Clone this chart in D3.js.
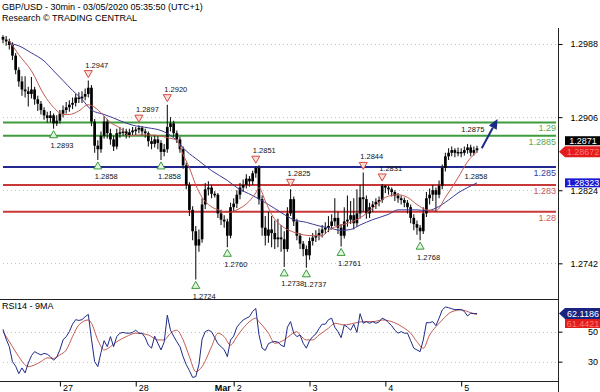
<!DOCTYPE html>
<html>
<head>
<meta charset="utf-8">
<script src="https://cdn.jsdelivr.net/npm/d3@7"></script>
<style>
  body { margin: 0; background: #fff; }
  svg { display: block; font-family: "Liberation Sans", Arial, sans-serif; }
</style>
</head>
<body>
<svg id="chart" width="600" height="392"></svg>
<script>
// GBP/USD, one candle per hour, index 0 = first bar on the left
const firstOpen = 1.2996;
const closes = [
  1.2993, 1.2991, 1.2987, 1.2975, 1.2959, 1.2946, 1.2937, 1.2935, 1.2932, 1.2937,
  1.2926, 1.2921, 1.2914, 1.2908, 1.2905, 1.2908, 1.2899, 1.2902, 1.2910, 1.2914,
  1.2917, 1.2920, 1.2922, 1.2928, 1.2927, 1.2929, 1.2932, 1.2939, 1.2901, 1.2874,
  1.2870, 1.2885, 1.2901, 1.2888, 1.2881, 1.2873, 1.2888, 1.2889, 1.2890, 1.2886,
  1.2889, 1.2891, 1.2892, 1.2894, 1.2890, 1.2888, 1.2879, 1.2876, 1.2881, 1.2877,
  1.2867, 1.2870, 1.2895, 1.2899, 1.2888, 1.2881, 1.2870, 1.2852, 1.2830, 1.2802,
  1.2778, 1.2762, 1.2769, 1.2808, 1.2825, 1.2827, 1.2820, 1.2819, 1.2798, 1.2791,
  1.2789, 1.2773, 1.2805, 1.2809, 1.2819, 1.2827, 1.2830, 1.2837, 1.2834, 1.2843,
  1.2849, 1.2814, 1.2782, 1.2773, 1.2780, 1.2776, 1.2769, 1.2771, 1.2769, 1.2758,
  1.2798, 1.2814, 1.2789, 1.2773, 1.2764, 1.2758, 1.2751, 1.2767, 1.2771, 1.2773,
  1.2776, 1.2780, 1.2782, 1.2784, 1.2789, 1.2793, 1.2782, 1.2773, 1.2789, 1.2791,
  1.2796, 1.2787, 1.2798, 1.2816, 1.2814, 1.2798, 1.2805, 1.2808, 1.2811, 1.2813,
  1.2829, 1.2827, 1.2825, 1.2822, 1.2818, 1.2815, 1.2813, 1.2810, 1.2805, 1.2793,
  1.2786, 1.2782, 1.2778, 1.2798, 1.2815, 1.2819, 1.2824, 1.2819, 1.2829, 1.2849,
  1.2862, 1.2866, 1.2869, 1.2866, 1.2867, 1.2866, 1.2869, 1.2872, 1.2866, 1.2869,
  1.2871
];
const highs = [
  1.2998, 1.2997, 1.2994, 1.2990, 1.2978, 1.2962, 1.2952, 1.2952, 1.2940, 1.2951,
  1.2940, 1.2930, 1.2924, 1.2917, 1.2912, 1.2913, 1.2910, 1.2908, 1.2914, 1.2919,
  1.2923, 1.2925, 1.2928, 1.2932, 1.2934, 1.2935, 1.2938, 1.2947, 1.2942, 1.2904,
  1.2880, 1.2890, 1.2907, 1.2904, 1.2893, 1.2885, 1.2893, 1.2895, 1.2894, 1.2893,
  1.2893, 1.2895, 1.2895, 1.2897, 1.2896, 1.2893, 1.2890, 1.2884, 1.2886, 1.2885,
  1.2880, 1.2876, 1.2920, 1.2906, 1.2902, 1.2891, 1.2884, 1.2873, 1.2855, 1.2833,
  1.2806, 1.2784, 1.2780, 1.2815, 1.2832, 1.2834, 1.2830, 1.2823, 1.2821, 1.2802,
  1.2796, 1.2792, 1.2810, 1.2815, 1.2824, 1.2832, 1.2836, 1.2842, 1.2840, 1.2846,
  1.2851, 1.2852, 1.2818, 1.2795, 1.2800, 1.2795, 1.2790, 1.2792, 1.2785, 1.2778,
  1.2805, 1.2825, 1.2817, 1.2792, 1.2776, 1.2767, 1.2762, 1.2771, 1.2776, 1.2779,
  1.2781, 1.2785, 1.2788, 1.2795, 1.2797, 1.2815, 1.2800, 1.2786, 1.2805, 1.2818,
  1.2812, 1.2815, 1.2825, 1.2830, 1.2844, 1.2818, 1.2810, 1.2812, 1.2815, 1.2817,
  1.2831, 1.2830, 1.2829, 1.2827, 1.2824, 1.2821, 1.2818, 1.2816, 1.2813, 1.2808,
  1.2797, 1.2790, 1.2785, 1.2805, 1.2822, 1.2826, 1.2830, 1.2827, 1.2835, 1.2853,
  1.2866, 1.2871, 1.2873, 1.2871, 1.2872, 1.2871, 1.2873, 1.2876, 1.2875, 1.2873,
  1.2874
];
const lows = [
  1.2989, 1.2986, 1.2982, 1.2970, 1.2954, 1.2940, 1.2930, 1.2928, 1.2918, 1.2927,
  1.2920, 1.2913, 1.2909, 1.2903, 1.2900, 1.2900, 1.2893, 1.2896, 1.2899, 1.2906,
  1.2910, 1.2912, 1.2915, 1.2918, 1.2922, 1.2922, 1.2925, 1.2928, 1.2896, 1.2866,
  1.2858, 1.2866, 1.2882, 1.2882, 1.2875, 1.2868, 1.2870, 1.2883, 1.2885, 1.2882,
  1.2883, 1.2886, 1.2886, 1.2888, 1.2885, 1.2883, 1.2873, 1.2870, 1.2872, 1.2870,
  1.2858, 1.2862, 1.2866, 1.2890, 1.2884, 1.2877, 1.2866, 1.2848, 1.2825, 1.2795,
  1.2768, 1.2724, 1.2755, 1.2765, 1.2803, 1.2818, 1.2815, 1.2816, 1.2793, 1.2785,
  1.2782, 1.2760, 1.2770, 1.2800, 1.2804, 1.2814, 1.2822, 1.2826, 1.2828, 1.2830,
  1.2838, 1.2808, 1.2773, 1.2762, 1.2765, 1.2760, 1.2758, 1.2760, 1.2755, 1.2738,
  1.2755, 1.2795, 1.2784, 1.2768, 1.2758, 1.2750, 1.2737, 1.2746, 1.2762, 1.2766,
  1.2768, 1.2771, 1.2775, 1.2777, 1.2780, 1.2784, 1.2775, 1.2761, 1.2770, 1.2783,
  1.2786, 1.2780, 1.2783, 1.2792, 1.2800, 1.2792, 1.2793, 1.2800, 1.2803, 1.2806,
  1.2810, 1.2821, 1.2819, 1.2817, 1.2812, 1.2810, 1.2808, 1.2805, 1.2798, 1.2787,
  1.2779, 1.2774, 1.2768, 1.2775, 1.2794, 1.2808, 1.2812, 1.2800, 1.2815, 1.2825,
  1.2845, 1.2858, 1.2862, 1.2861, 1.2862, 1.2861, 1.2863, 1.2865, 1.2862, 1.2863,
  1.2866
];

// Moving averages, [bar index, value]
const maFast = [
  [2, 1.2992], [5, 1.2976], [9, 1.2958], [13, 1.2931], [16, 1.2917], [19, 1.2909],
  [21, 1.2909], [24, 1.2913], [27, 1.2920], [28, 1.2919], [31, 1.2911], [34, 1.2900],
  [37, 1.2894], [40, 1.2885], [43, 1.2886], [47, 1.2886], [52, 1.2883], [55, 1.2880],
  [57, 1.2864], [59, 1.2849], [61, 1.2830], [63, 1.2816], [65, 1.2808], [68, 1.2802],
  [71, 1.2799], [74, 1.2802], [78, 1.2812], [80, 1.2821], [81, 1.2827], [83, 1.2812],
  [85, 1.2797], [89, 1.2782], [92, 1.2777], [95, 1.2774], [98, 1.2773], [101, 1.2773],
  [103, 1.2779], [107, 1.2785], [110, 1.2788], [113, 1.2793], [117, 1.2804], [121, 1.2816],
  [125, 1.2819], [128, 1.2816], [131, 1.2808], [134, 1.2802], [137, 1.2801], [140, 1.2816],
  [144, 1.2838], [147, 1.2856], [150, 1.28672]
];
const maSlow = [
  [2, 1.2989], [5, 1.2986], [9, 1.2978], [13, 1.2969], [16, 1.2958], [19, 1.2947],
  [22, 1.2936], [25, 1.2926], [28, 1.2914], [32, 1.2909], [35, 1.2905], [37, 1.2902],
  [41, 1.2897], [46, 1.2894], [50, 1.2891], [54, 1.2883], [58, 1.2868], [62, 1.2857],
  [66, 1.2846], [71, 1.2835], [74, 1.2827], [79, 1.2818], [84, 1.2808], [88, 1.2799],
  [92, 1.2791], [96, 1.2788], [100, 1.2784], [103, 1.2782], [107, 1.2779], [110, 1.2780],
  [113, 1.2785], [117, 1.2791], [122, 1.2797], [125, 1.2802], [131, 1.2802], [134, 1.2801],
  [137, 1.2804], [141, 1.2813], [144, 1.2821], [147, 1.2827], [150, 1.28323]
];

// RSI(14) and its 9-period MA
const rsi = [
  51.6, 45, 40, 30, 27, 22, 25.8, 22.5, 29, 34,
  36.7, 35.5, 34.5, 35.5, 35, 33.3, 31, 33, 37.8, 44.5,
  46.7, 50, 55, 58, 57.5, 58, 60, 61.5, 45, 30,
  26.7, 36, 44, 40, 46.7, 40, 46.7, 49, 49.5, 49,
  49, 49.5, 51, 49, 49, 46, 41, 39, 47, 42.3,
  37.8, 43, 61, 51, 47, 43.3, 40, 33.3, 28, 24,
  19.5, 20, 28, 45, 50, 51, 50, 46, 42, 40,
  38, 33.3, 44.5, 47, 53, 55.6, 57.8, 59, 60, 63.5,
  65.5, 48, 39, 37.5, 42, 43, 43.5, 43, 41, 40,
  53, 56.7, 49, 46.7, 47.8, 42.3, 39, 44, 46.7, 48.5,
  52, 55, 55, 58, 59, 53, 50, 46, 54.5, 53,
  51, 55, 49.5, 62, 55.6, 56.7, 55.6, 56.7, 55.6, 56.5,
  59, 58, 56, 54, 51, 49, 50, 49, 49, 44,
  39, 37.8, 36.7, 44.5, 56, 56, 56.7, 54, 59, 64.5,
  66.5, 66, 65.3, 64.7, 64.8, 64.8, 63.5, 60.5, 62.3, 62,
  62.1186
];
const rsiMa = [
  [0, 50], [3, 40], [5, 33.3], [8, 26.7], [10, 27.8], [12, 30], [14, 32.5], [16, 32.2],
  [18, 34.5], [20, 37.8], [22, 46.7], [24, 54.5], [27, 57.8], [28, 55.6], [30, 44.5],
  [32, 37.8], [34, 40], [36, 43.3], [39, 46.7], [42, 49], [46, 47.8], [49, 44.5],
  [51, 44.5], [53, 49], [55, 51], [57, 44.5], [59, 33.3], [61, 23.3], [63, 26.7],
  [66, 40], [68, 49], [70, 46.7], [72, 41], [74, 46.7], [76, 52.3], [78, 56.7], [80, 59],
  [81, 56.7], [84, 49], [86, 42.3], [89, 44.5], [91, 47.8], [93, 50], [94, 47.8],
  [96, 44.5], [98, 44.5], [100, 47.8], [103, 52.3], [105, 55.6], [108, 54.5], [111, 55.6],
  [114, 56.7], [117, 56.7], [120, 57.8], [123, 56.7], [127, 52.3], [129, 49], [131, 43.3],
  [133, 38.9], [135, 47.8], [137, 53.3], [139, 57.8], [142, 63.3], [145, 64.5],
  [148, 62.7], [150, 61.4421]
];

// Key levels
const levels = [1.29, 1.2885, 1.285, 1.283, 1.28];
const levelKinds = ["target", "target", "pivot", "support", "support"];

// Swing points, [bar index, price]
const swingHighs = [[27, 1.2947], [43, 1.2897], [52, 1.2920], [80, 1.2851], [91, 1.2825], [114, 1.2844], [120, 1.2831]];
const swingLows = [[16, 1.2893], [30, 1.2858], [50, 1.2858], [61, 1.2724], [71, 1.2760], [89, 1.2738], [96, 1.2737], [107, 1.2761], [132, 1.2768]];
const pendingHigh = [146, 1.2875];
const pendingLow = [147, 1.2858];

// Expected move
const arrowFrom = [151.5, 1.2871];
const arrowTo = [156.5, 1.2904];

// Axes
const priceTicks = [1.2988, 1.2906, 1.2824, 1.2742];
const rsiTicks = [50, 30];
const dayTicks = [18, 42, 73, 97, 121, 145];
const dayLabels = ["27", "28", "2", "3", "4", "5"];
const monthTick = 73;
const monthLabel = "Mar";
const title = "GBP/USD - 30min - 03/05/2020 05:35:50 (UTC+1)";
const subtitle = "Research \u00a9 TRADING CENTRAL";
const rsiTitle = "RSI14 - 9MA";

(function() {
  const svg = d3.select("#chart");
  const plotRight = 558;
  const priceTop = 28, priceBottom = 299;
  const rsiTop = 299, rsiBottom = 381;
  const levelColors = { target: "#3e9c3e", pivot: "#22288f", support: "#c83838" };
  const levelText = { target: "#5aa85a", pivot: "#3a40a0", support: "#cc5a5a" };

  const x = d3.scaleLinear().domain([0, 150]).range([3, 477]);
  const y = d3.scaleLinear().domain([1.2702, 1.3006]).range([priceBottom, priceTop]);
  const yRsi = d3.scaleLinear().domain([17.1, 71.8]).range([rsiBottom, rsiTop]);

  const candles = closes.map((c, i) => ({
    i,
    open: i ? closes[i - 1] : firstOpen,
    high: highs[i],
    low: lows[i],
    close: c
  }));

  svg.append("rect").attr("width", 600).attr("height", 392).attr("fill", "#fff");

  // Header
  svg.append("text").attr("x", 2).attr("y", 9.5).attr("font-size", 9).text(title);
  svg.append("text").attr("x", 2).attr("y", 20.5).attr("font-size", 9).text(subtitle);

  svg.append("clipPath").attr("id", "price-clip")
    .append("rect").attr("x", 0).attr("y", priceTop).attr("width", plotRight).attr("height", priceBottom - priceTop);
  svg.append("clipPath").attr("id", "rsi-clip")
    .append("rect").attr("x", 0).attr("y", rsiTop).attr("width", plotRight).attr("height", rsiBottom - rsiTop);

  const price = svg.append("g").attr("clip-path", "url(#price-clip)");

  // Dotted grid
  price.append("g")
    .selectAll("line")
    .data(priceTicks)
    .join("line")
    .attr("x1", 3).attr("x2", plotRight - 2)
    .attr("y1", d => Math.round(y(d)) + 0.5).attr("y2", d => Math.round(y(d)) + 0.5)
    .attr("stroke", "#c4c4c4").attr("stroke-dasharray", "1,3");

  // Levels
  price.append("g")
    .selectAll("line")
    .data(levels)
    .join("line")
    .attr("x1", 3).attr("x2", plotRight - 2)
    .attr("y1", d => y(d)).attr("y2", d => y(d))
    .attr("stroke", (d, i) => levelColors[levelKinds[i]])
    .attr("stroke-width", 2);

  // Candles
  const bars = price.append("g");
  bars.selectAll("line")
    .data(candles)
    .join("line")
    .attr("x1", d => x(d.i)).attr("x2", d => x(d.i))
    .attr("y1", d => y(d.high)).attr("y2", d => y(d.low))
    .attr("stroke", "#1a1a1a").attr("stroke-width", 1.1);
  bars.selectAll("rect")
    .data(candles)
    .join("rect")
    .attr("x", d => x(d.i) - 1.35)
    .attr("width", 2.7)
    .attr("y", d => y(Math.max(d.open, d.close)))
    .attr("height", d => Math.max(1.5, Math.abs(y(d.open) - y(d.close))))
    .attr("fill", "#000");

  // Moving averages
  const maLine = d3.line().x(d => x(d[0])).y(d => y(d[1])).curve(d3.curveMonotoneX);
  price.append("path").datum(maSlow)
    .attr("d", maLine).attr("fill", "none").attr("stroke", "#3a3a94").attr("stroke-width", 1);
  price.append("path").datum(maFast)
    .attr("d", maLine).attr("fill", "none").attr("stroke", "#c45a50").attr("stroke-width", 1);

  // Swing markers
  const fmt4 = d3.format(".4f");
  price.append("g")
    .selectAll("path")
    .data(swingHighs)
    .join("path")
    .attr("d", d => {
      const cx = x(d[0]), cy = y(d[1]);
      return `M${cx - 4},${cy - 10}L${cx + 4},${cy - 10}L${cx},${cy - 3}Z`;
    })
    .attr("fill", "#fbe0dc").attr("stroke", "#d04a40").attr("stroke-width", 1);
  price.append("g")
    .selectAll("path")
    .data(swingLows)
    .join("path")
    .attr("d", d => {
      const cx = x(d[0]), cy = y(d[1]);
      return `M${cx - 4},${cy + 9}L${cx + 4},${cy + 9}L${cx},${cy + 2}Z`;
    })
    .attr("fill", "#e2f5e0").attr("stroke", "#3a9a3a").attr("stroke-width", 1);

  const labels = svg.append("g").attr("font-size", 7.5).attr("fill", "#111");
  labels.selectAll(".hi")
    .data(swingHighs.concat([pendingHigh]))
    .join("text")
    .attr("class", "hi")
    .attr("x", d => x(d[0]) - 3).attr("y", d => y(d[1]) - 13)
    .text(d => fmt4(d[1]));
  labels.selectAll(".lo")
    .data(swingLows.concat([pendingLow]))
    .join("text")
    .attr("class", "lo")
    .attr("x", d => x(d[0]) - 3).attr("y", d => y(d[1]) + 19.5)
    .text(d => fmt4(d[1]));

  // Level labels
  svg.append("g")
    .selectAll("text")
    .data(levels)
    .join("text")
    .attr("x", plotRight - 2).attr("y", d => y(d) + 9)
    .attr("text-anchor", "end").attr("font-size", 9)
    .attr("fill", (d, i) => levelText[levelKinds[i]])
    .text(d => String(d));

  // Arrow
  const ax0 = x(arrowFrom[0]), ay0 = y(arrowFrom[1]);
  const ax1 = x(arrowTo[0]), ay1 = y(arrowTo[1]);
  const ang = Math.atan2(ay1 - ay0, ax1 - ax0);
  const headLen = 10, headW = 4.5;
  const bx = ax1 - headLen * Math.cos(ang), by = ay1 - headLen * Math.sin(ang);
  svg.append("line")
    .attr("x1", ax0).attr("y1", ay0).attr("x2", bx).attr("y2", by)
    .attr("stroke", "#1c2c82").attr("stroke-width", 2);
  svg.append("path")
    .attr("d", `M${ax1},${ay1}L${bx + headW * Math.sin(ang)},${by - headW * Math.cos(ang)}L${bx - headW * Math.sin(ang)},${by + headW * Math.cos(ang)}Z`)
    .attr("fill", "#1c2c82");

  // RSI panel
  const rsiG = svg.append("g").attr("clip-path", "url(#rsi-clip)");
  rsiG.append("g")
    .selectAll("line")
    .data(rsiTicks)
    .join("line")
    .attr("x1", 3).attr("x2", plotRight - 2)
    .attr("y1", d => Math.round(yRsi(d)) + 0.5).attr("y2", d => Math.round(yRsi(d)) + 0.5)
    .attr("stroke", "#c4c4c4").attr("stroke-dasharray", "1,3");
  rsiG.append("path").datum(rsiMa)
    .attr("d", d3.line().x(d => x(d[0])).y(d => yRsi(d[1])).curve(d3.curveMonotoneX))
    .attr("fill", "none").attr("stroke", "#c45a50").attr("stroke-width", 1);
  rsiG.append("path").datum(rsi)
    .attr("d", d3.line().x((d, i) => x(i)).y(d => yRsi(d)))
    .attr("fill", "none").attr("stroke", "#1e2a86").attr("stroke-width", 1);
  svg.append("text").attr("x", 2).attr("y", 309).attr("font-size", 9).text(rsiTitle);

  // Frame
  svg.append("g").attr("stroke", "#222").attr("stroke-width", 1)
    .call(g => g.append("line").attr("x1", 0).attr("x2", plotRight).attr("y1", priceBottom + 0.5).attr("y2", priceBottom + 0.5))
    .call(g => g.append("line").attr("x1", 0).attr("x2", plotRight).attr("y1", rsiBottom + 0.5).attr("y2", rsiBottom + 0.5))
    .call(g => g.append("line").attr("x1", plotRight + 0.5).attr("x2", plotRight + 0.5).attr("y1", priceTop).attr("y2", 392));

  // Right scales
  svg.append("g")
    .attr("transform", `translate(${plotRight + 0.5},0)`)
    .call(d3.axisRight(y).tickValues(priceTicks).tickSize(4).tickFormat(fmt4))
    .call(g => g.select(".domain").remove())
    .call(g => g.attr("font-size", 9).attr("font-family", null))
    .call(g => g.selectAll("text").attr("x", 39.5).attr("text-anchor", "end"));
  svg.append("g")
    .attr("transform", `translate(${plotRight + 0.5},0)`)
    .call(d3.axisRight(yRsi).tickValues(rsiTicks).tickSize(4))
    .call(g => g.select(".domain").remove())
    .call(g => g.attr("font-size", 9).attr("font-family", null))
    .call(g => g.selectAll("text").attr("x", 39.5).attr("text-anchor", "end"));

  // Date scale
  svg.append("g")
    .attr("transform", `translate(0,${rsiBottom + 0.5})`)
    .call(d3.axisBottom(x).tickValues(dayTicks).tickSize(5).tickFormat((d, i) => dayLabels[i]))
    .call(g => g.select(".domain").remove())
    .call(g => g.attr("font-size", 9).attr("font-family", null))
    .call(g => g.selectAll("text").attr("text-anchor", "start").attr("x", 2.5).attr("dy", null).attr("y", 9));
  svg.append("text")
    .attr("x", x(monthTick) - 3).attr("y", rsiBottom + 9.5)
    .attr("text-anchor", "end").attr("font-size", 9).attr("font-weight", "bold")
    .text(monthLabel);

  // Value tags
  function tag(cy, text, fill, color, pointer) {
    const g = svg.append("g");
    if (pointer) {
      g.append("path")
        .attr("d", `M${plotRight + 1},${cy}L${plotRight + 7},${cy - 5.5}L600,${cy - 5.5}L600,${cy + 5.5}L${plotRight + 7},${cy + 5.5}Z`)
        .attr("fill", fill);
    } else {
      g.append("rect").attr("x", plotRight + 7).attr("y", cy - 4.5).attr("width", 35).attr("height", 9).attr("fill", fill);
    }
    g.append("text")
      .attr("x", 583).attr("y", cy + 3.3)
      .attr("text-anchor", "middle").attr("font-size", 9).attr("fill", color)
      .text(text);
  }
  const fastEnd = maFast[maFast.length - 1][1];
  const slowEnd = maSlow[maSlow.length - 1][1];
  const lastClose = closes[closes.length - 1];
  const fastY = y(fastEnd);
  tag(Math.min(y(lastClose), fastY - 11), fmt4(lastClose), "#000", "#fff", false);
  tag(fastY, d3.format(".5f")(fastEnd), "#e21b1b", "#ff7a7a", true);
  tag(y(slowEnd), d3.format(".5f")(slowEnd), "#1a1ad0", "#fff", false);

  const rsiLast = rsi[rsi.length - 1];
  const rsiMaLast = rsiMa[rsiMa.length - 1][1];
  const rsiY = yRsi(rsiLast);
  tag(rsiY, d3.format(".4f")(rsiLast), "#1a2480", "#fff", true);
  tag(Math.max(yRsi(rsiMaLast), rsiY + 10), d3.format(".4f")(rsiMaLast), "#e21b1b", "#ff7a7a", false);
})();
</script>
</body>
</html>
